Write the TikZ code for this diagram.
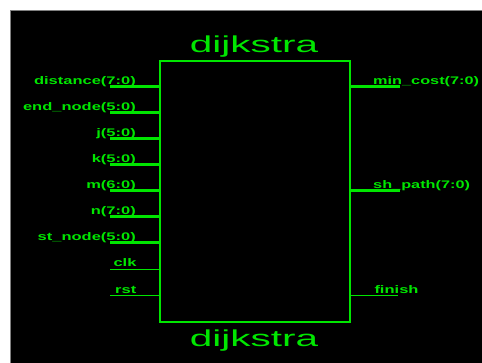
\documentclass[tikz,border=0pt]{standalone}
\usepackage{fontspec}
\setmainfont{Liberation Sans}
\usepackage{graphicx}
\definecolor{hdlgreen}{RGB}{0,230,0}
\begin{document}
\begin{tikzpicture}[x=1pt,y=-1pt,
  bus/.style={hdlgreen,line width=3pt},
  wire/.style={hdlgreen,line width=1pt},
  lpin/.style={anchor=base east,inner sep=0pt,text=hdlgreen,font=\fontsize{11}{11}\selectfont\bfseries},
  rpin/.style={anchor=base west,inner sep=0pt,text=hdlgreen,font=\fontsize{11}{11}\selectfont\bfseries},
  title/.style={anchor=base,inner sep=0pt,text=hdlgreen,font=\fontsize{23}{23}\selectfont}]
\useasboundingbox (0,0) rectangle (482,363);
\fill[white] (0,0) rectangle (482,363);
\fill[black] (10.5,11) rectangle (482,363);
\draw[gray,line width=1pt] (10.5,363) -- (10.5,11) -- (482,11);
% block
\node[draw=hdlgreen,line width=1.5pt,minimum width=190pt,minimum height=261pt,inner sep=0pt] (dut) at (255,191.5) {};
\node[title] (ttop) at (254,52.7) {\scalebox{1.76}[1]{dijkstra}};
\node[title] (tbot) at (254,346) {\scalebox{1.76}[1]{dijkstra}};
% left buses
\foreach \n/\y/\t in {dist/87/distance(7:0),endn/113/end\_node(5:0),pj/139/j(5:0),pk/165/k(5:0),pm/191/m(6:0),pn/217/n(7:0),stn/243/st\_node(5:0)}{
  \coordinate (\n) at (110,\y);
  \draw[bus] (\n) -- (\n -| dut.west);
  \node[lpin] (\n lab) at (136,\y-2) {\scalebox{1.5}[1]{\t}};
}
% left single wires
\coordinate (clk) at (110,269.3);
\draw[wire] (clk) -- (clk -| dut.west);
\node[rpin] (clklab) at (113.3,266.7) {\scalebox{1.5}[1]{clk}};
\coordinate (rst) at (110,295.3);
\draw[wire] (rst) -- (rst -| dut.west);
\node[rpin] (rstlab) at (115,293.3) {\scalebox{1.5}[1]{rst}};
% right buses
\coordinate (minc) at (399.5,87);
\draw[bus] (minc -| dut.east) -- (minc);
\node[rpin] (minclab) at (373,85) {\scalebox{1.48}[1]{min\_cost(7:0)}};
\coordinate (shp) at (399.5,191);
\draw[bus] (shp -| dut.east) -- (shp);
\node[rpin] (shplab) at (373,189) {\scalebox{1.48}[1]{sh\_path(7:0)}};
\coordinate (fin) at (398.3,295.3);
\draw[wire] (fin -| dut.east) -- (fin);
\node[rpin] (finlab) at (374.3,293.3) {\scalebox{1.5}[1]{finish}};
\end{tikzpicture}
\end{document}
